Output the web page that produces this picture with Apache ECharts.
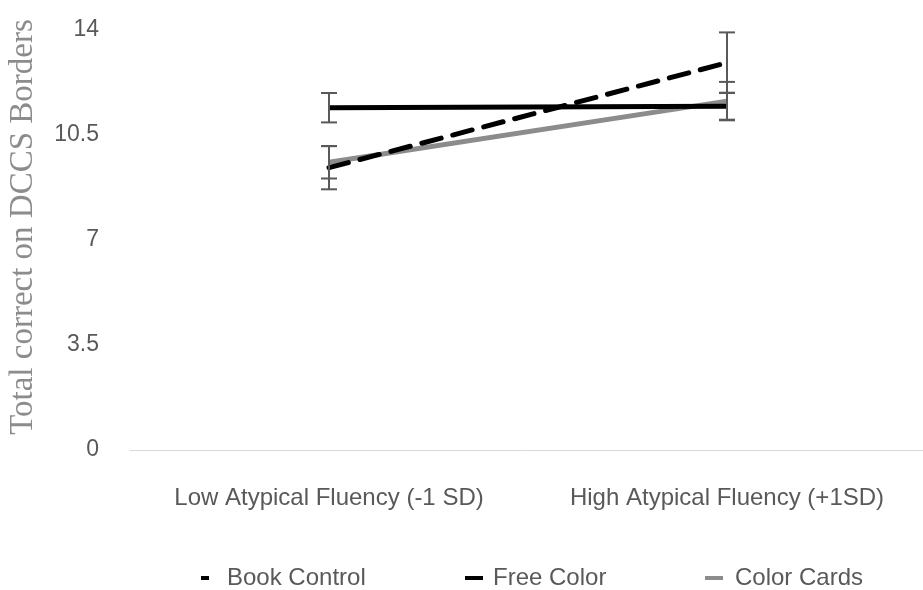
<!DOCTYPE html>
<html>
<head>
    <meta charset="UTF-8">
    <title>DCCS Borders</title>
    <style>
        html, body { margin: 0; padding: 0; background: #fff; }
        #chart-container { width: 923px; height: 590px; }
    </style>
</head>
<body>
<div id="chart-container"></div>
<script src="https://cdn.jsdelivr.net/npm/echarts@6/dist/echarts.min.js"></script>
<script>
    // data
    const categories = ['Low Atypical Fluency (-1 SD)', 'High Atypical Fluency (+1SD)'];
    const bookControl = [9.41, 12.91];
    const bookErr = [0.72, 1.01];
    const freeColor = [11.41, 11.46];
    const freeErr = [0.49, 0.45];
    const colorCards = [9.59, 11.63];
    const cardsErr = [0.54, 0.64];

    function errData(vals, errs) {
        return vals.map(function (v, i) { return [i, v - errs[i], v + errs[i]]; });
    }

    // error bar with caps
    function renderErr(params, api) {
        const x = api.value(0);
        const lo = api.coord([x, api.value(1)]);
        const hi = api.coord([x, api.value(2)]);
        const w = 8;
        const st = { stroke: '#595959', lineWidth: 2 };
        return {
            type: 'group',
            children: [
                { type: 'line', shape: { x1: hi[0], y1: hi[1], x2: lo[0], y2: lo[1] }, style: st },
                { type: 'line', shape: { x1: hi[0] - w, y1: hi[1], x2: hi[0] + w, y2: hi[1] }, style: st },
                { type: 'line', shape: { x1: lo[0] - w, y1: lo[1], x2: lo[0] + w, y2: lo[1] }, style: st }
            ]
        };
    }

    // one legend per item so each can sit where the original has it
    function legendItem(name, left, w, pad) {
        return {
            data: [name],
            left: left,
            top: 561,
            itemWidth: w,
            itemHeight: 4,
            icon: 'rect',
            textStyle: { color: '#595959', fontSize: 24, fontFamily: 'Liberation Sans', padding: [0, 0, 0, pad] }
        };
    }

    const chart = echarts.init(document.getElementById('chart-container'));

    const option = {
        animation: false,
        grid: { left: 130, right: -3, top: 30, bottom: 140, outerBoundsMode: 'none' },
        legend: [
            legendItem('Book Control', 196, 8, 13),
            legendItem('Free Color', 460, 18, 5),
            legendItem('Color Cards', 700, 18, 7)
        ],
        xAxis: {
            type: 'category',
            data: categories,
            axisLine: { lineStyle: { color: '#d9d9d9', width: 1 } },
            axisTick: { show: false },
            axisLabel: { interval: 0, color: '#595959', fontSize: 24, fontFamily: 'Liberation Sans', margin: 36 }
        },
        yAxis: {
            type: 'value',
            min: 0,
            max: 14,
            interval: 3.5,
            name: 'Total correct on DCCS Borders',
            nameLocation: 'middle',
            nameGap: 90,
            nameTextStyle: { color: '#8c8c8c', fontSize: 33, fontFamily: 'Liberation Serif', padding: [0, 0, 0, 26] },
            splitLine: { show: false },
            axisLine: { show: false },
            axisTick: { show: false },
            axisLabel: { color: '#595959', fontSize: 23, fontFamily: 'Liberation Sans', margin: 31 }
        },
        series: [
            {
                name: 'Color Cards', type: 'line', data: colorCards, symbol: 'none',
                color: '#8c8c8c', lineStyle: { width: 5, color: '#8c8c8c' }, z: 2
            },
            {
                name: 'Book Control', type: 'line', data: bookControl, symbol: 'none',
                color: '#000', lineStyle: { width: 5, color: '#000', type: [20, 12], cap: 'round' }, z: 3
            },
            {
                name: 'Free Color', type: 'line', data: freeColor, symbol: 'none',
                color: '#000', lineStyle: { width: 5, color: '#000' }, z: 4
            },
            { type: 'custom', renderItem: renderErr, data: errData(colorCards, cardsErr), z: 5 },
            { type: 'custom', renderItem: renderErr, data: errData(bookControl, bookErr), z: 5 },
            { type: 'custom', renderItem: renderErr, data: errData(freeColor, freeErr), z: 5 }
        ]
    };

    chart.setOption(option);
</script>
</body>
</html>
